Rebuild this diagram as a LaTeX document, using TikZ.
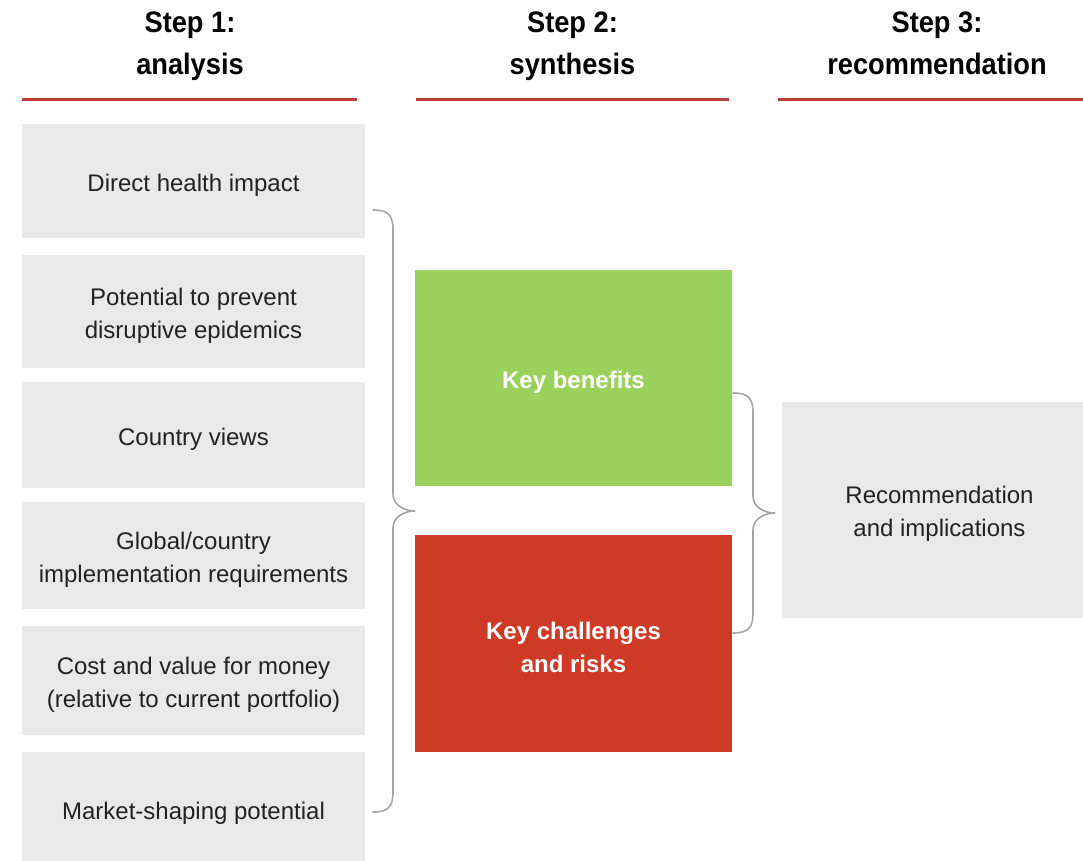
\documentclass[tikz,border=0pt]{standalone}
\usepackage{fontspec}
\setmainfont{Liberation Sans}
\newfontfamily\headfont[FakeStretch=0.92]{Liberation Sans}
\begin{document}
\definecolor{boxgray}{RGB}{233,233,233}
\definecolor{rulered}{RGB}{188,62,52}
\definecolor{keygreen}{RGB}{153,209,92}
\definecolor{keyred}{RGB}{207,58,38}
\definecolor{bracegray}{RGB}{165,165,165}
\definecolor{bodytext}{RGB}{34,34,34}
\begin{tikzpicture}[x=0.5pt,y=-0.5pt,
  header/.style={align=center,font=\headfont\fontsize{14.8}{21}\selectfont\bfseries,text=black},
  steprule/.style={draw=rulered,line width=1.5pt},
  boxtext/.style={align=center,inner sep=0pt,yshift=-2pt,
    font=\fontsize{12}{16.5}\selectfont},
  itembox/.style={fill=boxgray,inner sep=0pt,minimum width=171.5pt,
    label={[boxtext,text=bodytext]center:#1}},
  keybox/.style={inner sep=0pt,minimum width=158.5pt,minimum height=108pt,
    label={[boxtext,text=white,font=\fontsize{12}{16.5}\selectfont\bfseries]center:#1}},
  curly/.style={draw=bracegray,line width=0.8pt,line cap=round}]
\useasboundingbox (0,0) rectangle (1083,861);
\clip (0,0) rectangle (1083,861);

% column headings and their rules
\node[header,anchor=north] (h1) at (190,-4)   {Step 1:\strut\\analysis\strut};
\node[header,anchor=north] (h2) at (572.5,-4) {Step 2:\strut\\synthesis\strut};
\node[header,anchor=north] (h3) at (937,-4)   {Step 3:\strut\\recommendation\strut};
\draw[steprule] (22,100) -- (357,100);
\draw[steprule] (416,100) -- (729,100);
\draw[steprule] (778,100) -- (1100,100);

% step 1: analysis criteria
\node[itembox={Direct health impact},minimum height=57pt] (b1) at (193.5,181) {};
\node[itembox={Potential to prevent\\disruptive epidemics},minimum height=56.5pt] (b2) at (193.5,311.5) {};
\node[itembox={Country views},minimum height=53pt] (b3) at (193.5,435) {};
\node[itembox={Global/country\\implementation requirements},minimum height=53.5pt] (b4) at (193.5,555.5) {};
\node[itembox={Cost and value for money\\(relative to current portfolio)},minimum height=54.5pt] (b5) at (193.5,680.5) {};
\node[itembox={Market-shaping potential},minimum height=57pt] (b6) at (193.5,809) {};

% step 2: synthesis
\node[keybox={Key benefits},fill=keygreen] (kb) at (573.5,378) {};
\node[keybox={Key challenges\\and risks},fill=keyred] (kr) at (573.5,643.5) {};

% step 3: recommendation
\node[itembox={Recommendation\\and implications},minimum width=157.5pt,minimum height=108pt] (rec) at (939.5,510) {};

% brace gathering step 1 into step 2
\coordinate (lt) at (373,210);
\coordinate (lp) at (415,511);
\coordinate (lb) at (373,812);
\draw[curly] (lt) .. controls (388,210) and (393,215) .. (393,230)
  -- (393,494) .. controls (393,505) and (404,511) .. (lp)
  .. controls (404,511) and (393,517) .. (393,528)
  -- (393,792) .. controls (393,807) and (388,812) .. (lb);

% brace gathering step 2 into step 3
\coordinate (rt) at (733,393);
\coordinate (rp) at (775,513);
\coordinate (rb) at (733,633);
\draw[curly] (rt) .. controls (748,393) and (753,398) .. (753,413)
  -- (753,496) .. controls (753,507) and (764,513) .. (rp)
  .. controls (764,513) and (753,519) .. (753,530)
  -- (753,613) .. controls (753,628) and (748,633) .. (rb);
\end{tikzpicture}
\end{document}
